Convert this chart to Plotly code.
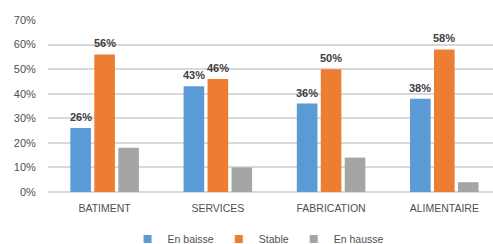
import plotly.graph_objects as go

categories = ["BATIMENT", "SERVICES", "FABRICATION", "ALIMENTAIRE"]
series_names = ["En baisse", "Stable", "En hausse"]
en_baisse = [0.26, 0.43, 0.36, 0.38]
stable = [0.56, 0.46, 0.50, 0.58]
en_hausse = [0.18, 0.10, 0.14, 0.04]
colors = ["#5B9BD5", "#ED7D31", "#A5A5A5"]
y_ticks = [0, 0.1, 0.2, 0.3, 0.4, 0.5, 0.6, 0.7]
y_tick_labels = ["0%", "10%", "20%", "30%", "40%", "50%", "60%", "70%"]

text_color = "#505050"
font_family = "Liberation Sans, Arial, sans-serif"

fig = go.Figure()
for name, vals, col in zip(series_names, [en_baisse, stable, en_hausse], colors):
    fig.add_trace(go.Bar(
        x=categories, y=vals, name=name, legendgroup=name, showlegend=False,
        marker=dict(color=col, line=dict(width=0)),
    ))
# legend entries with small square swatches
for name, col in zip(series_names, colors):
    fig.add_trace(go.Scatter(
        x=[None], y=[None], mode="markers", name=name, legendgroup=name,
        marker=dict(symbol="square", size=8, color=col),
    ))

# data labels for the first two series
annotations = []
for vals, shift in [(en_baisse, -24), (stable, 0)]:
    for c, v in zip(categories, vals):
        annotations.append(dict(
            x=c, y=v, xref="x", yref="y", text=f"<b>{round(v*100)}%</b>",
            showarrow=False, xshift=shift, yanchor="bottom", yshift=3,
            font=dict(size=11, color="#404040", family=font_family),
        ))

fig.update_layout(
    width=493, height=244,
    margin=dict(l=48, r=0, t=20, b=52, autoexpand=False),
    paper_bgcolor="white", plot_bgcolor="white",
    barmode="group", bargap=0.365, bargroupgap=0.14,
    font=dict(family=font_family, color=text_color, size=10),
    showlegend=True,
    legend=dict(orientation="h", x=0.472, xanchor="center", y=-0.273, yanchor="middle",
                font=dict(size=10.5, color=text_color), itemwidth=30,
                bgcolor="rgba(0,0,0,0)"),
    annotations=annotations,
)
fig.update_xaxes(range=[-0.5, 3.43], showgrid=False, showline=False,
                 ticks="outside", ticklen=6, tickcolor="rgba(0,0,0,0)",
                 tickfont=dict(size=10.5, color=text_color), fixedrange=True,
                 automargin=False)
fig.update_yaxes(range=[0, 0.7], tickvals=y_ticks, ticktext=y_tick_labels,
                 showgrid=True, gridcolor="#D9D9D9", gridwidth=1.5,
                 zeroline=True, zerolinecolor="#D9D9D9", zerolinewidth=1.5,
                 showline=False, ticks="outside", ticklen=9, tickcolor="rgba(0,0,0,0)",
                 tickfont=dict(size=11, color=text_color), fixedrange=True,
                 automargin=False)

fig.write_html("out.html", config={"displayModeBar": False},
               post_script="document.body.style.margin='0';")
